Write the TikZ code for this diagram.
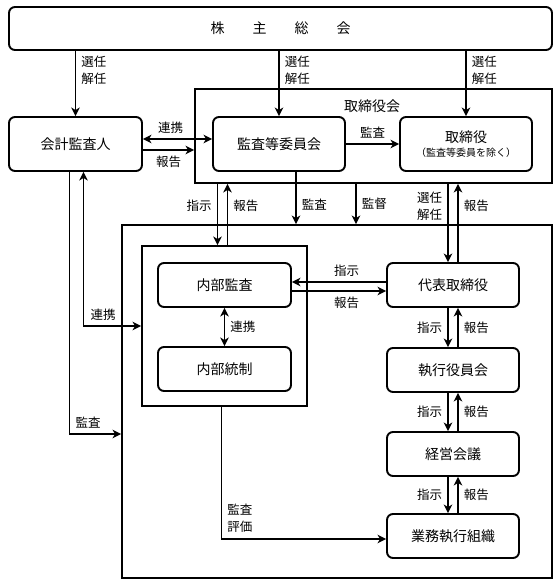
\documentclass[tikz,border=0pt]{standalone}
\usepackage{fontspec}
\setmainfont{Noto Sans CJK JP}
\usetikzlibrary{arrows.meta, positioning}

\begin{document}
\begin{tikzpicture}[x=1bp, y=-1bp, on grid, line width=1.9bp, >={Stealth[length=8.5bp, width=8.5bp, inset=2.5bp]},
    unit/.style={rectangle, rounded corners=6bp, draw, inner sep=0pt, minimum width=132bp, minimum height=44bp, align=center, font=\fontsize{14bp}{17bp}\selectfont},
    frame/.style={rectangle, draw, inner sep=0pt},
    lbl/.style={inner sep=5bp, align=left, font=\fontsize{12.5bp}{17bp}\selectfont}]

        \useasboundingbox (0,0) rectangle (558,584);

        % frames
        \node[frame, minimum width=357bp, minimum height=94bp] (B) at (373.5,136) {};
        \node[font=\fontsize{14bp}{17bp}\selectfont] (Blbl) at (372,106) {取締役会};
        \node[frame, minimum width=430bp, minimum height=353bp] (CO) at (337,401.5) {};
        \node[frame, minimum width=165bp, minimum height=160bp] (IN) at (224.5,326) {};

        % boxes
        \node[unit, minimum width=543bp, minimum height=43bp] (GM) at (280.5,28.5) {株\hspace{2em}主\hspace{2em}総\hspace{2em}会};
        \node[unit, minimum width=133bp, minimum height=54bp] (AUD) at (75.5,144) {会計監査人};
        \node[unit, minimum height=54bp] (ACM) at (279,144) {監査等委員会};
        \node[unit, minimum height=54bp] (DIR) at (466,144) {取締役\\[-3bp]{\fontsize{10bp}{12bp}\selectfont （監査等委員を除く）}};
        \node[unit, minimum width=133bp] (IA) at (224.5,285) {内部監査};
        \node[unit, minimum width=133bp, below=84bp of IA] (IC) {内部統制};
        \node[unit] (REP) at (453,285) {代表取締役};
        \node[unit, below=85bp of REP] (EXE) {執行役員会};
        \node[unit, below=84bp of EXE] (MTG) {経営会議};
        \node[unit, below=82bp of MTG] (OPS) {業務執行組織};

        \path[->]
        (GM.south -| AUD.north) edge node[lbl, right, pos=0.3] {選任\\解任} (AUD.north)
        (GM.south -| ACM.north) edge node[lbl, right, pos=0.3] {選任\\解任} (ACM.north)
        (GM.south -| DIR.north) edge node[lbl, right, pos=0.3] {選任\\解任} (DIR.north)
        ([yshift=5bp]AUD.east) edge[<->] node[lbl, above, pos=0.4] {連携} ([yshift=5bp]AUD.east -| ACM.west)
        ([yshift=-6bp]AUD.east) edge node[lbl, below] {報告} ([yshift=-6bp]AUD.east -| B.west)
        (ACM) edge node[lbl, above] {監査} (DIR)
        ([xshift=-7bp]IN.north |- B.south) edge node[lbl, left, pos=0.35] {指示} ([xshift=-7bp]IN.north)
        ([xshift=3bp]IN.north) edge node[lbl, right, pos=0.65] {報告} ([xshift=3bp]IN.north |- B.south)
        ([xshift=17bp]ACM.south) edge node[lbl, right, pos=0.63] {監査} ([xshift=17bp]ACM.south |- CO.north)
        (B.south -| 356,0) edge node[lbl, right] {監督} (CO.north -| 356,0)
        ([xshift=-5bp]REP.north |- B.south) edge node[lbl, left, pos=0.28] {選任\\解任} ([xshift=-5bp]REP.north)
        ([xshift=5bp]REP.north) edge node[lbl, right, pos=0.72] {報告} ([xshift=5bp]REP.north |- B.south)
        (IA) edge[<->] node[lbl, right] {連携} (IC)
        ([yshift=3bp]REP.west) edge node[lbl, above, pos=0.42] {指示} ([yshift=3bp]REP.west -| IA.east)
        ([yshift=-6bp]IA.east) edge node[lbl, below, pos=0.58] {報告} ([yshift=-6bp]IA.east -| REP.west)
        ([xshift=-5bp]REP.south) edge node[lbl, left] {指示} ([xshift=-5bp]EXE.north)
        ([xshift=5bp]EXE.north) edge node[lbl, right] {報告} ([xshift=5bp]REP.south)
        ([xshift=-5bp]EXE.south) edge node[lbl, left] {指示} ([xshift=-5bp]MTG.north)
        ([xshift=5bp]MTG.north) edge node[lbl, right] {報告} ([xshift=5bp]EXE.south)
        ([xshift=-5bp]MTG.south) edge node[lbl, left] {指示} ([xshift=-5bp]OPS.north)
        ([xshift=5bp]OPS.north) edge node[lbl, right] {報告} ([xshift=5bp]MTG.south)
        ;

        % elbow connectors
        \draw[->] ([xshift=-6bp]AUD.south) |- node[lbl, above, pos=0.68] {監査} (CO.west |- 0,434);
        \draw[<->] ([xshift=8bp]AUD.south) |- node[lbl, above, pos=0.67] {連携} (IN.west);
        \draw[->] ([xshift=-3bp]IN.south) |- node[lbl, right, pos=0.42] {監査\\評価} ([yshift=-3bp]OPS.west);

    \end{tikzpicture}
\end{document}
